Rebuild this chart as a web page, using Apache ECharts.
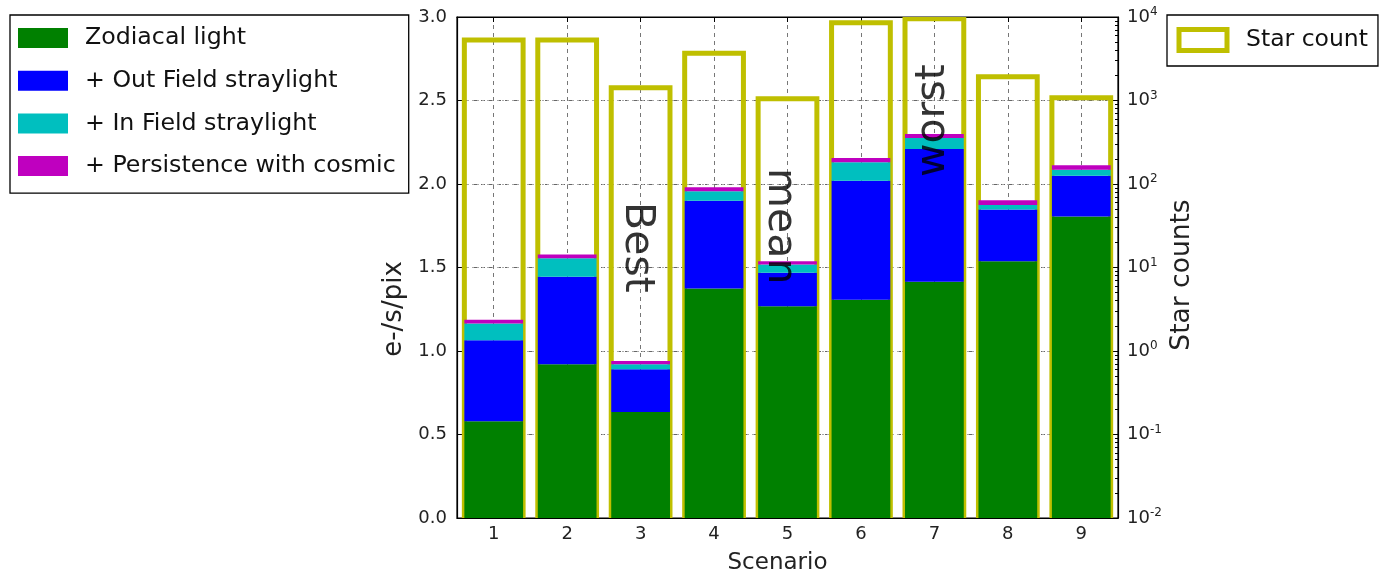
<!DOCTYPE html>
<html>
<head>
<meta charset="utf-8">
<script src="https://cdn.jsdelivr.net/npm/echarts@6/dist/echarts.min.js"></script>
<style>html,body{margin:0;padding:0;background:#fff;}#c{width:1384px;height:577px;}</style>
</head>
<body>
<div id="c"></div>
<script>
// ---- data ----
const categories = ['1', '2', '3', '4', '5', '6', '7', '8', '9'];
const zodiacal    = [0.58, 0.92, 0.635, 1.375, 1.268, 1.307, 1.415, 1.538, 1.805];
const outField    = [0.485, 0.525, 0.255, 0.525, 0.200, 0.713, 0.794, 0.310, 0.245];
const inField     = [0.100, 0.110, 0.030, 0.056, 0.050, 0.110, 0.066, 0.026, 0.036];
const persistence = [0.022, 0.023, 0.020, 0.024, 0.020, 0.025, 0.025, 0.028, 0.027];
const starCount   = [5300, 5300, 1420, 3670, 1050, 8560, 9500, 1930, 1080];
const rightDecades = [-2, -1, 0, 1, 2, 3, 4];
const annText = ['Best', 'mean', 'worst'];
const annX    = [2.95, 4.90, 6.98];
const annY    = [1.62, 1.747, 2.38];

const FONT = 'DejaVu Sans';
const minorLogTicks = [];
for (let d = rightDecades[0]; d < rightDecades[rightDecades.length - 1]; d++) {
  for (let k = 2; k <= 9; k++) minorLogTicks.push(d + Math.log10(k));
}

const chart = echarts.init(document.getElementById('c'), null, {renderer: 'canvas'});
const barCommon = {type: 'bar', stack: 'total', barWidth: '80%', xAxisIndex: 0, yAxisIndex: 0, z: 3};

const option = {
  animation: false,
  backgroundColor: '#fff',
  textStyle: {fontFamily: FONT},
  grid: {left: 457, right: 266, top: 17, bottom: 59, show: true, borderColor: '#000', borderWidth: 1.2, containLabel: false},
  legend: [
    {
      left: 10, top: 15, orient: 'vertical',
      data: ['Zodiacal light', '+ Out Field straylight', '+ In Field straylight', '+ Persistence with cosmic'],
      icon: 'rect', itemWidth: 50, itemHeight: 20, itemGap: 18.7,
      padding: [11, 13, 15, 8],
      borderColor: '#000', borderWidth: 1.3, borderRadius: 0,
      textStyle: {fontSize: 23.7, color: '#111', fontFamily: FONT, lineHeight: 24, padding: [0, 0, 0, 12]},
      selectedMode: false
    },
    {
      left: 1167, top: 15, orient: 'vertical',
      data: [{name: 'Star count', icon: 'rect', itemStyle: {color: '#fff', borderColor: '#bfbf00', borderWidth: 5}}],
      itemWidth: 48, itemHeight: 21,
      padding: [12, 10, 13, 9.5],
      borderColor: '#000', borderWidth: 1.3, borderRadius: 0,
      textStyle: {fontSize: 23.5, color: '#111', fontFamily: FONT, lineHeight: 24, padding: [0, 0, 0, 14]},
      selectedMode: false
    }
  ],
  xAxis: [
    {
      type: 'category', data: categories, position: 'bottom', boundaryGap: true,
      axisLine: {show: true, onZero: false, lineStyle: {color: '#000', width: 1.2}},
      axisTick: {show: true, inside: true, alignWithLabel: true, length: 5, lineStyle: {color: '#000'}},
      axisLabel: {fontSize: 18, color: '#222', margin: 7, fontFamily: FONT},
      splitLine: {show: true, alignWithLabel: true, lineStyle: {color: '#777', type: [4, 4], width: 1}}
    },
    {
      type: 'category', data: categories, position: 'top', boundaryGap: true,
      axisLine: {show: true, onZero: false, lineStyle: {color: '#000', width: 1.2}},
      axisTick: {show: true, inside: true, alignWithLabel: true, length: 5, lineStyle: {color: '#000'}},
      axisLabel: {show: false}, splitLine: {show: false}
    },
    {type: 'value', min: 0.5, max: 9.5, show: false, axisLine: {onZero: false}}
  ],
  yAxis: [
    {
      type: 'value', min: 0, max: 3, interval: 0.5, position: 'left',
      axisLine: {show: true, onZero: false, lineStyle: {color: '#000', width: 1.2}},
      axisTick: {show: true, inside: true, length: 5, lineStyle: {color: '#000'}},
      axisLabel: {fontSize: 18, color: '#222', margin: 10, fontFamily: FONT, formatter: v => v.toFixed(1)},
      splitLine: {show: true, lineStyle: {color: '#666', type: [4, 4], width: 1}}
    },
    {
      type: 'log', logBase: 10, min: 0.01, max: 10000, interval: 1, splitNumber: 6, position: 'right',
      axisLine: {show: true, onZero: false, lineStyle: {color: '#000', width: 1.2}},
      axisTick: {show: true, inside: true, length: 6, lineStyle: {color: '#000'}},
      axisLabel: {
        fontSize: 18, color: '#222', margin: 9, fontFamily: FONT,
        formatter: v => '10{s|' + Math.round(Math.log10(v)) + '}',
        rich: {s: {fontSize: 12, color: '#222', fontFamily: FONT, padding: [0, 0, 10, 0]}}
      },
      splitLine: {show: true, lineStyle: {color: '#aaa', type: [2, 3], width: 1}}
    },
    {
      type: 'value', min: -2, max: 4, position: 'right',
      axisLine: {show: false, onZero: false},
      axisTick: {show: true, inside: true, length: 3, customValues: minorLogTicks, lineStyle: {color: '#000'}},
      axisLabel: {show: false}, splitLine: {show: false}
    }
  ],
  series: [
    {
      name: 'Star count', type: 'custom', xAxisIndex: 0, yAxisIndex: 1, z: 1, clip: true,
      data: starCount.map((v, i) => [i, v]),
      encode: {x: 0, y: 1},
      renderItem: function (params, api) {
        const idx = api.value(0);
        const top = api.coord([idx, api.value(1)]);
        const bottom = api.coord([idx, 0.01]);
        const w = api.size([1, 1])[0] * 0.8;
        return {
          type: 'rect',
          shape: {x: top[0] - w / 2, y: top[1], width: w, height: bottom[1] - top[1]},
          style: {fill: 'none', stroke: '#bfbf00', lineWidth: 5}
        };
      }
    },
    Object.assign({name: 'Zodiacal light', data: zodiacal, itemStyle: {color: '#008000'}}, barCommon),
    Object.assign({name: '+ Out Field straylight', data: outField, itemStyle: {color: '#0000ff'}}, barCommon),
    Object.assign({name: '+ In Field straylight', data: inField, itemStyle: {color: '#00bfbf'}}, barCommon),
    Object.assign({name: '+ Persistence with cosmic', data: persistence, itemStyle: {color: '#bf00bf'}}, barCommon),
    {
      name: 'annotations', type: 'scatter', xAxisIndex: 2, yAxisIndex: 0, symbolSize: 0, z: 5,
      data: annText.map((t, i) => ({name: t, value: [annX[i], annY[i]],
        label: {rotate: t === 'worst' ? 90 : -90}})),
      label: {show: true, position: 'inside', formatter: p => p.name, fontSize: 41, color: '#000', fontFamily: FONT},
      silent: true
    }
  ],
  graphic: [
    {type: 'text', x: 394, y: 309, rotation: Math.PI / 2,
     style: {text: 'e-/s/pix', fontSize: 26, fontFamily: FONT, fill: '#222', align: 'center', verticalAlign: 'middle'}},
    {type: 'text', x: 1182, y: 275, rotation: Math.PI / 2,
     style: {text: 'Star counts', fontSize: 26.5, fontFamily: FONT, fill: '#222', align: 'center', verticalAlign: 'middle'}},
    {type: 'text', x: 777.5, y: 563,
     style: {text: 'Scenario', fontSize: 23, fontFamily: FONT, fill: '#222', align: 'center', verticalAlign: 'middle'}}
  ]
};
chart.setOption(option);
</script>
</body>
</html>
